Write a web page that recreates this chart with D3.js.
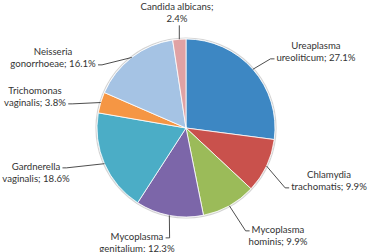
<!DOCTYPE html>
<html lang="en">
  <head>
    <meta charset="UTF-8" />
    <title>Pathogen pie</title>
    <script src="https://d3js.org/d3.v7.min.js"></script>
    <style>
      body { margin: 0; background: #fff; }
      .lbl { font-family: Lato, sans-serif; font-size: 9.6px; fill: #333; }
    </style>
  </head>
  <body>
    <svg width="368" height="252"></svg>
    <script>
      // data, clockwise from 12 o'clock
      const names = [
        "Ureaplasma ureoliticum",
        "Chlamydia trachomatis",
        "Mycoplasma hominis",
        "Mycoplasma genitalium",
        "Gardnerella vaginalis",
        "Trichomonas vaginalis",
        "Neisseria gonorrhoeae",
        "Candida albicans"
      ];
      const shares = [27.1, 9.9, 9.9, 12.3, 18.6, 3.8, 16.1, 2.4];
      const colors = ["#3d87c3", "#c9514c", "#9bbb59", "#7c66a9", "#4badc6", "#f59644", "#a5c3e4", "#e0a2a4"];

      // label layout: text centre x, first line y, which line the leader meets, side
      const labelLayout = [
        { x: 316, y: 46, line: 1, side: "r" },
        { x: 329, y: 175, line: 1, side: "r" },
        { x: 278, y: 230, line: 0, side: "r" },
        { x: 137, y: 237, line: 0, side: "l" },
        { x: 36, y: 167, line: 0, side: "l" },
        { x: 35, y: 91, line: 1, side: "l" },
        { x: 53, y: 52, line: 1, side: "l" },
        { x: 177, y: 7, line: 1, side: "b", wrapAll: true }
      ];

      const cx = 186, cy = 128, r = 89, lineH = 12;
      const svg = d3.select("svg");

      const pie = d3.pie().sort(null).value(d => d);
      const arcs = pie(shares);
      const arc = d3.arc().innerRadius(0).outerRadius(r);

      const g = svg.append("g").attr("transform", `translate(${cx},${cy})`);

      // soft edge behind the pie
      g.append("circle").attr("r", r + 1).attr("fill", "none")
        .attr("stroke", "#d4d4d4").attr("stroke-width", 1.2);

      g.selectAll("path.slice")
        .data(arcs)
        .enter()
        .append("path")
        .attr("class", "slice")
        .attr("d", arc)
        .attr("fill", (d, i) => colors[i])
        .attr("stroke", "#fff")
        .attr("stroke-width", 0.8)
        .attr("stroke-linejoin", "round");

      // labels + leader lines
      arcs.forEach(function (a, i) {
        const L = labelLayout[i];
        const parts = names[i].split(" ");
        const val = d3.format(".1f")(shares[i]) + "%";
        const lines = L.wrapAll
          ? [names[i] + ";", val]
          : [parts[0], parts.slice(1).join(" ") + "; " + val];

        const t = svg.append("text").attr("class", "lbl").attr("text-anchor", "middle");
        const spans = lines.map((s, k) =>
          t.append("tspan").attr("x", L.x).attr("y", L.y + k * lineH).attr("dy", "0.35em").text(s)
        );

        const bb = spans[L.line].node().getBBox();
        const mid = arc.centroid(a);
        const ang = (a.startAngle + a.endAngle) / 2;
        const ax = cx + Math.sin(ang) * r, ay = cy - Math.cos(ang) * r;

        let pts;
        if (L.side === "b") {
          const ex = ax, ey = bb.y + bb.height + 1;
          pts = [[ex, ey], [ax, ay]];
        } else {
          const ex = L.side === "r" ? bb.x - 2 : bb.x + bb.width + 2;
          const ey = bb.y + bb.height / 2 + 1;
          const kx = L.side === "r" ? ex - 4 : ex + 4;
          pts = [[ex, ey], [kx, ey], [ax, ay]];
        }
        svg.append("path")
          .attr("d", d3.line()(pts))
          .attr("fill", "none")
          .attr("stroke", "#3a3a3a")
          .attr("stroke-width", 0.9);
      });
    </script>
  </body>
</html>
